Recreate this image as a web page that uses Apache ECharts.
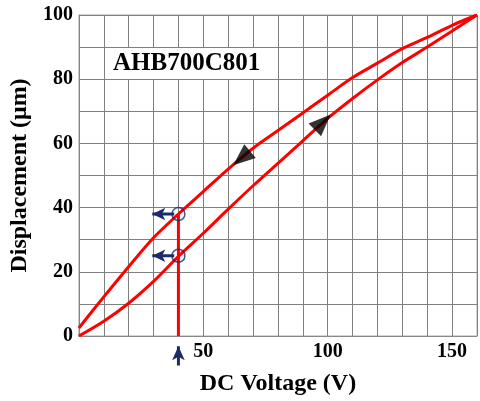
<!DOCTYPE html>
<html>
<head>
<meta charset="utf-8">
<script src="https://cdn.jsdelivr.net/npm/echarts@6/dist/echarts.min.js"></script>
<style>
html,body{margin:0;padding:0;background:#fff;}
#chart{width:480px;height:401px;}
</style>
</head>
<body>
<div id="chart"></div>
<script>
// ---- data ----
const chartTitle = 'AHB700C801';
const xAxisTitle = 'DC Voltage (V)';
const yAxisTitle = 'Displacement (\u03bcm)';
const voltage = [0, 10, 20, 30, 40, 50, 60, 70, 80, 90, 100, 110, 120, 130, 140, 150, 160];
const ascendingDisp = [0, 4.6, 10.2, 17.0, 24.8, 32.0, 39.5, 46.8, 53.8, 60.8, 67.8, 74, 79.8, 85.2, 90, 95, 100];
const descendingDisp = [2.5, 12.2, 21.6, 30.6, 38, 45, 52, 58.5, 64, 69.5, 75, 80.5, 85, 89.5, 93, 96.8, 100];
const xTickLabels = [50, 100, 150];
const yTickLabels = [0, 20, 40, 60, 80, 100];
// reference marks at 40 V
const refVoltage = 40;
const refPoints = [38, 25];           // read-off points (circles)
const refArrowTipX = 29.5;            // left arrows end (data units)
const refArrowStartX = 38.3;
const refBottomArrowY = [-9.2, -3.2]; // upward arrow under the axis
// direction arrowheads on the loop: [x, y, rotation]
const dirArrows = [[65.4, 55.4, 130], [98, 66.6, -46]];

const navy = '#1c2c6a';
const red = '#ff0000';
const font = "'Liberation Serif','Times New Roman',serif";

const series = [
  {
    name: 'ascending', type: 'line', smooth: 0.3, symbol: 'none',
    data: voltage.map((v, i) => [v, ascendingDisp[i]]),
    lineStyle: { color: red, width: 3 }, z: 3
  },
  {
    name: 'descending', type: 'line', smooth: 0.3, symbol: 'none',
    data: voltage.map((v, i) => [v, descendingDisp[i]]),
    lineStyle: { color: red, width: 3 }, z: 3
  },
  {
    name: 'ref', type: 'line', symbol: 'none',
    data: [[refVoltage, 0], [refVoltage, refPoints[0]]],
    lineStyle: { color: red, width: 3 }, z: 3
  },
  {
    name: 'circles', type: 'scatter', symbol: 'circle', symbolSize: 13,
    data: refPoints.map(p => [refVoltage, p]),
    itemStyle: { color: 'rgba(0,0,0,0)', borderColor: navy, borderWidth: 1.5 }, z: 4
  },
  {
    name: 'dirArrows', type: 'scatter', symbol: 'triangle', symbolSize: [18, 22],
    data: dirArrows.map(a => ({ value: [a[0], a[1]], symbolRotate: a[2] })),
    itemStyle: { color: '#000' }, z: 5
  }
];
refPoints.forEach(p => {
  series.push({
    type: 'line', symbol: 'none', clip: false, z: 4,
    data: [
      { value: [refArrowStartX, p], symbol: 'none' },
      { value: [refArrowTipX, p], symbol: 'arrow', symbolSize: [9.5, 13], symbolRotate: 90 }
    ],
    showSymbol: true,
    lineStyle: { color: navy, width: 3 },
    itemStyle: { color: navy }
  });
});
series.push({
  type: 'line', symbol: 'none', clip: false, z: 4,
  data: [
    { value: [refVoltage, refBottomArrowY[0]], symbol: 'none' },
    { value: [refVoltage, refBottomArrowY[1]], symbol: 'arrow', symbolSize: [9.5, 14], symbolRotate: 0 }
  ],
  showSymbol: true,
  lineStyle: { color: navy, width: 3 },
  itemStyle: { color: navy }
});

const chart = echarts.init(document.getElementById('chart'), null, { renderer: 'canvas' });
chart.setOption({
  animation: false,
  backgroundColor: '#fff',
  title: {
    text: chartTitle, left: 107, top: 48,
    backgroundColor: '#fff', padding: [3, 6],
    textStyle: { fontFamily: font, fontWeight: 'bold', fontSize: 25, color: '#000' }
  },
  grid: { left: 73, right: 0, top: 15, bottom: 61, show: true, borderColor: '#aaa', borderWidth: 1 },
  xAxis: {
    type: 'value', min: 0, max: 160, interval: 10,
    name: xAxisTitle, nameLocation: 'middle', nameGap: 36,
    nameTextStyle: { fontFamily: font, fontWeight: 'bold', fontSize: 24, color: '#000' },
    axisLine: { show: true, lineStyle: { color: '#888', width: 1 } },
    axisTick: { show: false },
    axisLabel: {
      margin: 6, fontFamily: font, fontWeight: 'bold', fontSize: 20, color: '#000',
      formatter: v => xTickLabels.includes(v) ? String(v) : ''
    },
    splitLine: { show: true, lineStyle: { color: '#808080', width: 1 } }
  },
  yAxis: {
    type: 'value', min: 0, max: 100, interval: 10,
    name: yAxisTitle, nameLocation: 'middle', nameGap: 45, nameRotate: 90,
    nameTextStyle: { fontFamily: font, fontWeight: 'bold', fontSize: 24, color: '#000' },
    axisLine: { show: true, lineStyle: { color: '#888', width: 1 } },
    axisTick: { show: false },
    axisLabel: {
      margin: 6, fontFamily: font, fontWeight: 'bold', fontSize: 20, color: '#000',
      formatter: v => yTickLabels.includes(v) ? String(v) : ''
    },
    splitLine: { show: true, lineStyle: { color: '#808080', width: 1 } }
  },
  series: series
});
</script>
</body>
</html>
